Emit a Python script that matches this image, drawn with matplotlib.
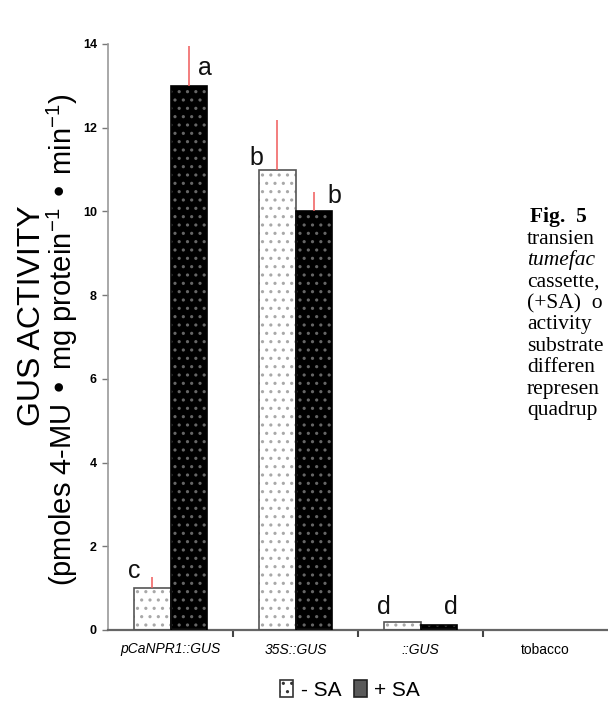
import numpy as np
import matplotlib
matplotlib.use("Agg")
import matplotlib.pyplot as plt
from matplotlib.patches import Patch

# values
constructs = ["pCaNPR1::GUS", "35S::GUS", "::GUS", "tobacco"]
minus_sa = [1.0, 11.0, 0.2, 0.0]
plus_sa = [13.0, 10.0, 0.12, 0.0]
minus_sa_err = [0.27, 1.18, 0.0, 0.0]
plus_sa_err = [0.95, 0.46, 0.0, 0.0]
minus_sa_letters = ["c", "b", "d", ""]
plus_sa_letters = ["a", "b", "d", ""]
yticks = [0, 2, 4, 6, 8, 10, 12, 14]

# caption text as far as it is visible at the right edge
caption_title = "Fig.  5"
caption_lines = ["transien", "tumefac", "cassette,", "(+SA)  o",
                 "activity", "substrate", "differen", "represen",
                 "quadrup"]

plt.rcParams["font.family"] = ["Liberation Sans", "DejaVu Sans"]
plt.rcParams["hatch.linewidth"] = 1.1

fig = plt.figure(figsize=(6.08, 7.15), dpi=100)
ax = fig.add_axes([108 / 608, 85 / 715, 500 / 608, 586 / 715])

x = np.arange(len(constructs))
w = 0.29
minus_sa = np.array(minus_sa)
plus_sa = np.array(plus_sa)
has_m = minus_sa > 0
has_p = plus_sa > 0

# -SA bars: white with grey dots
ax.bar(x[has_m] - w / 2, minus_sa[has_m], w, color="white", edgecolor="#a8a8a8",
       hatch="..", linewidth=0, zorder=2)
ax.bar(x[has_m] - w / 2, minus_sa[has_m], w, fill=False, edgecolor="#555555",
       linewidth=1.2, zorder=3)
# +SA bars: black with grey dots
ax.bar(x[has_p] + w / 2, plus_sa[has_p], w, color="black", edgecolor="#666666",
       hatch="..", linewidth=0, zorder=2)
ax.bar(x[has_p] + w / 2, plus_sa[has_p], w, fill=False, edgecolor="black",
       linewidth=1.2, zorder=3)

# upward-only error bars, red
for xs, vals, errs in [(x - w / 2, minus_sa, minus_sa_err),
                       (x + w / 2, plus_sa, plus_sa_err)]:
    for xi, v, e in zip(xs, vals, errs):
        if e > 0:
            ax.vlines(xi, v, v + e, color="#f05a5a", linewidth=1.1, zorder=4)

# significance letters
letter_pos = {
    (0, "-"): (-0.29, 1.24), (0, "+"): (0.276, 13.27),
    (1, "-"): (0.684, 11.11), (1, "+"): (1.308, 10.2),
    (2, "-"): (1.708, 0.38), (2, "+"): (2.244, 0.38),
}
for i in range(len(constructs)):
    for side, letters in [("-", minus_sa_letters), ("+", plus_sa_letters)]:
        if letters[i]:
            lx, ly = letter_pos[(i, side)]
            ax.text(lx, ly, letters[i], ha="center", va="baseline",
                    fontsize=18, color="#111111")

ax.set_xlim(-0.5, len(constructs) - 0.5)
ax.set_ylim(0, 14)
ax.set_yticks(yticks)
ax.set_yticklabels([str(t) for t in yticks], fontweight="bold", fontsize=9)
ax.tick_params(axis="y", direction="out", length=4, width=1, color="#777777",
               pad=4)

# category boundary ticks on x axis, labels in the middle
ax.set_xticks(x[:-1] + 0.5)
ax.set_xticklabels([])
ax.set_xticks(x, minor=True)
ax.set_xticklabels(constructs, minor=True, fontsize=10)
for lab in ax.get_xticklabels(minor=True):
    if lab.get_text() != "tobacco":
        lab.set_fontstyle("italic")
ax.tick_params(axis="x", which="major", direction="out", length=5, width=1.5,
               color="#444444")
ax.tick_params(axis="x", which="minor", length=0, pad=9)

for s in ["top", "right"]:
    ax.spines[s].set_visible(False)
ax.spines["left"].set_color("#999999")
ax.spines["left"].set_linewidth(1.2)
ax.spines["bottom"].set_color("#666666")
ax.spines["bottom"].set_linewidth(1.6)

# y label in two lines
fig.text(32 / 608, 1 - 316 / 715, "GUS ACTIVITY", rotation=90,
         ha="center", va="center", fontsize=23)
fig.text(62 / 608, 1 - 340 / 715,
         r"(pmoles 4-MU • mg protein$^{\mathregular{-1}}$ • min$^{\mathregular{-1}}$)",
         rotation=90, ha="center", va="center", fontsize=21)

# legend
handles = [Patch(facecolor="white", edgecolor="#333333", hatch="..",
                 linewidth=1.2, label="- SA"),
           Patch(facecolor="#5a5a5a", edgecolor="#222222",
                 linewidth=1.2, label="+ SA")]
fig.legend(handles=handles, loc="center", bbox_to_anchor=(350 / 608, 1 - 690 / 715),
           ncol=2, frameon=False, fontsize=15, handlelength=0.65,
           handleheight=0.85, handletextpad=0.35, columnspacing=0.6)

# figure caption on the right, cut off by the page edge in the reference
cap_x = 527 / 608
fig.text(530 / 608, 1 - 222 / 715, caption_title, fontsize=15.5,
         fontweight="bold", family=["Liberation Serif"], va="baseline")
for k, line in enumerate(caption_lines):
    style = "italic" if line.startswith("tumefac") else "normal"
    fig.text(cap_x, 1 - (243.5 + 21.5 * k) / 715, line, fontsize=15.5,
             family=["Liberation Serif"], fontstyle=style, va="baseline")

fig.savefig("out.png", dpi=100)
